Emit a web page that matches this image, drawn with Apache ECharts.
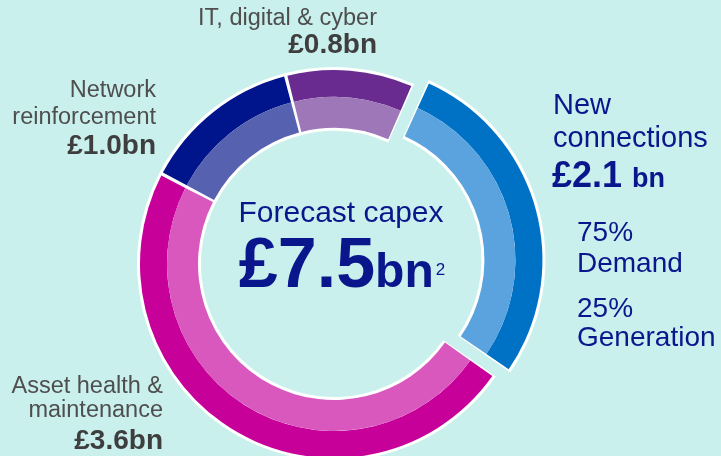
<!DOCTYPE html>
<html>
<head>
<meta charset="utf-8">
<script src="https://cdn.jsdelivr.net/npm/echarts@6/dist/echarts.min.js"></script>
<style>
  html, body { margin: 0; padding: 0; background: #c9f0ec; }
  #chart { width: 721px; height: 456px; }
</style>
</head>
<body>
<div id="chart"></div>
<script>
// data (£bn), clockwise from the top-right
const categories = ['New\nconnections', 'Asset health &\nmaintenance', 'Network\nreinforcement', 'IT, digital & cyber'];
const capex = [2.1, 3.6, 1.0, 0.8];
const totalCapex = 7.5;
const splitShares = [75, 25];
const splitLabels = ['Demand', 'Generation'];

// ring colours
const outerColors = ['#0072c6', '#c8009a', '#00148c', '#692b8f'];
const innerColors = ['#5aa3de', '#d958bd', '#5662b0', '#9d77b7'];

const FONT = '"Liberation Sans", Arial, sans-serif';
const NAVY = '#0a168c';
const GREY = '#4e4e4e';
const DARK = '#3e3e3e';

const chart = echarts.init(document.getElementById('chart'));

// measure text so the mixed-size parts sit next to each other
const measureCtx = document.createElement('canvas').getContext('2d');
function textWidth(s, size, weight) {
  measureCtx.font = weight + ' ' + size + 'px ' + FONT;
  return measureCtx.measureText(s).width;
}

function ringData(colors) {
  return categories.map((name, i) => ({
    name: name,
    value: capex[i],
    selected: i === 0,
    itemStyle: { color: colors[i] }
  }));
}

const pieBase = {
  type: 'pie',
  center: [334, 264],
  startAngle: 66,
  clockwise: true,
  selectedMode: 'single',
  selectedOffset: 15,
  label: { show: false },
  labelLine: { show: false },
  emphasis: { disabled: true },
  animation: false
};

function fmt(v) {
  return '£' + v.toFixed(1) + 'bn';
}

// text helper, y is the baseline
function txt(x, baseline, text, size, weight, color, align) {
  return {
    type: 'text',
    x: x,
    y: baseline - size * 0.31,
    silent: true,
    style: {
      text: text,
      fontFamily: FONT,
      fontSize: size,
      fontWeight: weight,
      fill: color,
      align: align,
      verticalAlign: 'middle'
    }
  };
}

// "£7.5bn²" in the middle
const bigNum = '£' + totalCapex.toFixed(1);
const wBig = textWidth(bigNum, 70, 'bold');
const wBn = textWidth('bn', 48, 'bold');
const wSup = textWidth('2', 17, 'normal');
const bigLeft = 342 - (wBig + wBn + 2 + wSup) / 2;

// "£2.1bn" on the right
const ncNum = '£' + capex[0].toFixed(1);
const wNc = textWidth(ncNum, 36, 'bold');

const option = {
  backgroundColor: '#c9f0ec',
  series: [
    // white backing gives the outline and the gaps
    Object.assign({}, pieBase, {
      radius: [133, 197],
      data: ringData(['#fff', '#fff', '#fff', '#fff'])
    }),
    Object.assign({}, pieBase, {
      radius: [167, 194],
      padAngle: 1,
      data: ringData(outerColors)
    }),
    Object.assign({}, pieBase, {
      radius: [136, 167],
      padAngle: 1,
      data: ringData(innerColors)
    })
  ],
  graphic: [
    // IT
    txt(377, 26, categories[3], 23.5, 'normal', GREY, 'right'),
    txt(377, 54, fmt(capex[3]), 28, 'bold', DARK, 'right'),
    // network
    txt(156, 98, categories[2].split('\n')[0], 23.5, 'normal', GREY, 'right'),
    txt(156, 125, categories[2].split('\n')[1], 23.5, 'normal', GREY, 'right'),
    txt(156, 155, fmt(capex[2]), 28, 'bold', DARK, 'right'),
    // asset health
    txt(163, 394, categories[1].split('\n')[0], 23.5, 'normal', GREY, 'right'),
    txt(163, 418, categories[1].split('\n')[1], 23.5, 'normal', GREY, 'right'),
    txt(163, 450, fmt(capex[1]), 28, 'bold', DARK, 'right'),
    // new connections
    txt(553, 115, categories[0].split('\n')[0], 29, 'normal', NAVY, 'left'),
    txt(553, 148, categories[0].split('\n')[1], 29, 'normal', NAVY, 'left'),
    txt(552, 188, ncNum, 36, 'bold', NAVY, 'left'),
    txt(552 + wNc + 10, 188, 'bn', 27, 'bold', NAVY, 'left'),
    txt(577, 242, splitShares[0] + '%', 28, 'normal', NAVY, 'left'),
    txt(577, 273, splitLabels[0], 28, 'normal', NAVY, 'left'),
    txt(577, 318, splitShares[1] + '%', 28, 'normal', NAVY, 'left'),
    txt(577, 347, splitLabels[1], 28, 'normal', NAVY, 'left'),
    // centre
    txt(341, 223, 'Forecast capex', 30, 'normal', NAVY, 'center'),
    txt(bigLeft, 289, bigNum, 70, 'bold', NAVY, 'left'),
    txt(bigLeft + wBig, 289, 'bn', 48, 'bold', NAVY, 'left'),
    txt(bigLeft + wBig + wBn + 2, 276, '2', 17, 'normal', NAVY, 'left')
  ]
};

chart.setOption(option);
</script>
</body>
</html>
